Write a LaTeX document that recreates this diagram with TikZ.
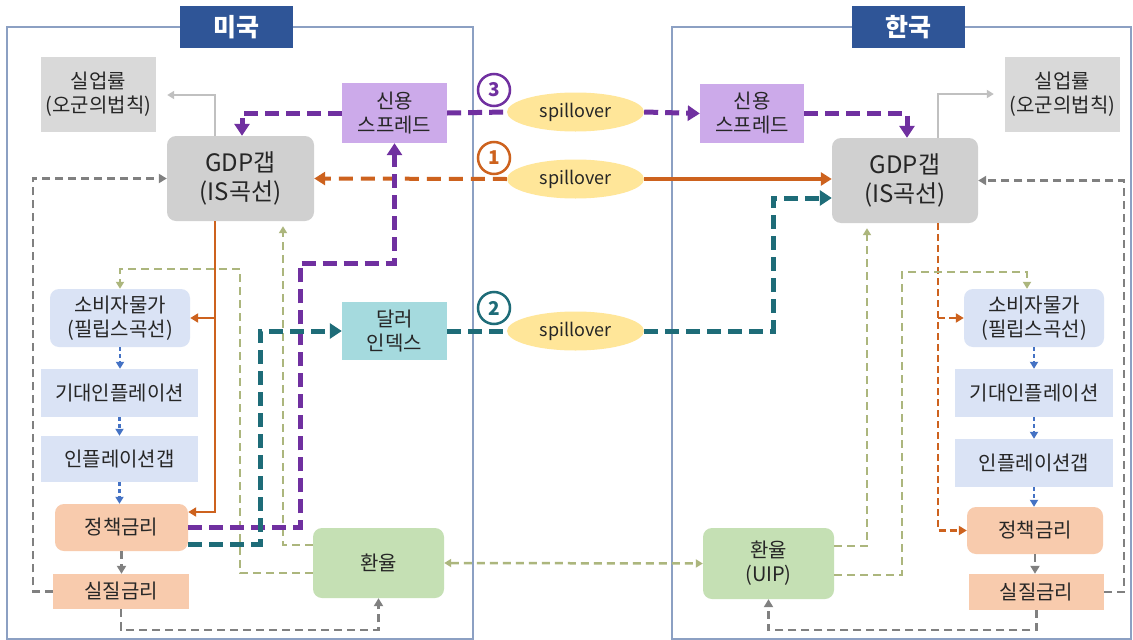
\documentclass[tikz,border=0pt]{standalone}
\usepackage{fontspec}
\setmainfont{Noto Sans CJK KR}
\usetikzlibrary{arrows.meta,shapes.geometric,calc}
\definecolor{navy}{RGB}{47,85,151}
\definecolor{purp}{RGB}{112,48,160}
\definecolor{oran}{RGB}{205,98,30}
\definecolor{teal2}{RGB}{30,108,120}
\definecolor{khaki}{RGB}{172,182,125}
\definecolor{dgray}{RGB}{128,128,128}
\definecolor{lgray}{RGB}{192,192,192}
\definecolor{blu}{RGB}{68,114,196}
\definecolor{frm}{RGB}{140,160,195}
\definecolor{boxgray}{RGB}{208,208,208}
\definecolor{unempgray}{RGB}{217,217,217}
\definecolor{lav}{RGB}{204,170,234}
\definecolor{lblue}{RGB}{218,227,245}
\definecolor{peach}{RGB}{248,203,173}
\definecolor{lgreen}{RGB}{197,224,180}
\definecolor{lteal}{RGB}{165,218,222}
\definecolor{yell}{RGB}{255,230,153}
\tikzset{
  txt/.style={align=center,inner sep=0pt,font=\fontsize{20}{24}\selectfont,text=black!85},
  sq/.style={txt,draw=none},
  rd/.style={txt,draw=none,rounded corners=9pt},
  titlebox/.style={fill=navy,text=white,inner sep=0pt,minimum width=113,minimum height=42,font=\fontsize{25}{28}\selectfont\bfseries},
  spill/.style={ellipse,fill=yell,minimum width=137,minimum height=39,inner sep=0pt,font=\fontsize{18}{20}\selectfont,text=black!85},
  num/.style={circle,draw,line width=2.5pt,minimum size=32,inner sep=0pt,font=\fontsize{19}{20}\selectfont\bfseries},
  purpl/.style={draw=purp,line width=5pt,dash pattern=on 14pt off 7pt,-{Triangle[length=12pt,width=15pt]}},
  tealx/.style={draw=teal2,line width=5pt,dash pattern=on 14pt off 7pt,-{Triangle[length=12pt,width=15pt]}},
  oranD/.style={draw=oran,line width=4pt,dash pattern=on 14pt off 8pt,-{Triangle[length=11pt,width=13pt]}},
  oranS/.style={draw=oran,line width=2.5pt,-{Triangle[length=8pt,width=9pt]}},
  oranT/.style={draw=oran,line width=2.5pt,dash pattern=on 7pt off 4pt,-{Triangle[length=8pt,width=9pt]}},
  grayD/.style={draw=dgray,line width=2.8pt,dash pattern=on 8pt off 5pt,-{Triangle[length=8pt,width=9pt]}},
  khak/.style={draw=khaki,line width=2.5pt,dash pattern=on 8pt off 5pt,-{Triangle[length=7pt,width=8pt]}},
  bluA/.style={draw=blu,line width=2.5pt,dash pattern=on 4pt off 3pt,-{Triangle[length=7pt,width=8pt]}},
  lgr/.style={draw=lgray,line width=2pt,-{Triangle[length=7pt,width=8pt]}},
}
\begin{document}
\begin{tikzpicture}[x=1pt,y=-1pt]
\useasboundingbox (0,0) rectangle (1133,640);
\fill[white] (0,0) rectangle (1133,640);
% frames
\draw[frm,line width=1.2pt] (7,639) rectangle (473,27);
\draw[frm,line width=1.2pt] (672,639) rectangle (1131,27);
\node[titlebox] (tL) at (236.5,27) {미국};
\node[titlebox] (tR) at (908,27) {한국};

% ---------- left nodes
\node[sq,fill=unempgray,minimum width=115,minimum height=75] (unempL) at (98.5,94.5) {실업률\\(오군의법칙)};
\node[sq,fill=lav,minimum width=105,minimum height=60] (creditL) at (394.5,113) {신용\\스프레드};
\node[rd,fill=boxgray,minimum width=147,minimum height=85,font=\fontsize{24}{29}\selectfont] (gdpL) at (240.5,178.5) {GDP갭\\(IS곡선)};
\node[rd,fill=lblue,minimum width=140,minimum height=58] (cpiL) at (120,318) {소비자물가\\(필립스곡선)};
\node[sq,fill=lblue,minimum width=157,minimum height=48] (expL) at (119.5,393) {기대인플레이션};
\node[sq,fill=lblue,minimum width=157,minimum height=46] (gapL) at (119.5,459) {인플레이션갭};
\node[rd,fill=peach,minimum width=133,minimum height=47] (polL) at (121.5,527.5) {정책금리};
\node[sq,fill=peach,minimum width=136,minimum height=35] (realL) at (121,591.5) {실질금리};
\node[rd,fill=lgreen,minimum width=131,minimum height=70] (fxL) at (378.5,563) {환율};
\node[sq,fill=lteal,minimum width=105,minimum height=58] (dollar) at (394.5,331) {달러\\인덱스};

% ---------- right nodes
\node[sq,fill=lav,minimum width=104,minimum height=59] (creditR) at (752,113.5) {신용\\스프레드};
\node[sq,fill=unempgray,minimum width=115,minimum height=75] (unempR) at (1062.5,94.5) {실업률\\(오군의법칙)};
\node[rd,fill=boxgray,minimum width=146,minimum height=85,font=\fontsize{24}{29}\selectfont] (gdpR) at (905,180.5) {GDP갭\\(IS곡선)};
\node[rd,fill=lblue,minimum width=140,minimum height=58] (cpiR) at (1034,318) {소비자물가\\(필립스곡선)};
\node[sq,fill=lblue,minimum width=158,minimum height=48] (expR) at (1034,393) {기대인플레이션};
\node[sq,fill=lblue,minimum width=158,minimum height=48] (gapR) at (1034,463) {인플레이션갭};
\node[rd,fill=peach,minimum width=136,minimum height=47] (polR) at (1035,530.5) {정책금리};
\node[sq,fill=peach,minimum width=135,minimum height=36] (realR) at (1036.5,592) {실질금리};
\node[rd,fill=lgreen,minimum width=131,minimum height=71] (fxR) at (768.5,563.5) {환율\\(UIP)};

% ---------- center
\node[spill] (sp3) at (575.5,112) {spillover};
\node[spill] (sp1) at (575.5,179) {spillover};
\node[spill] (sp2) at (575.5,331) {spillover};
\node[num,draw=purp,text=purp] (n3) at (494,90) {3};
\node[num,draw=oran,text=oran] (n1) at (494,158) {1};
\node[num,draw=teal2,text=teal2] (n2) at (494,308) {2};

% ---------- left connectors
\draw[lgr,shorten >=11pt] (gdpL.north -| 215,0) |- (unempL.east |- 0,95);
\draw[purpl] (creditL.west) -| (gdpL.north -| 242,0);
\draw[oranD] (sp1.west) -- (gdpL.east);
\draw[grayD] (realL.west) -- (33,591.5) |- (gdpL.west);
\draw[oranS] (gdpL.south -| 215,0) |- (polL.east |- 0,512);
\draw[oranS] (215,318) -- (cpiL.east);
\draw[khak] (fxL.west |- 0,573) -| (240,269) -| (cpiL.north);
\draw[khak,shorten >=5pt] (fxL.west |- 0,545) -| (gdpL.south -| 283,0);
\draw[purpl] (polL.east) -| (300,263) -| (creditL.south);
\draw[tealx] (polL.east |- 0,544) -| (260,331) -- (dollar.west);
\draw[bluA] (cpiL.south) -- (cpiL.south |- expL.north);
\draw[bluA] (expL.south) -- (gapL.north);
\draw[bluA] (gapL.south) -- (gapL.south |- polL.north);
\draw[grayD] (polL.south) -- (polL.south |- realL.north);
\draw[grayD] (realL.south) -- (121,630) -| (fxL.south);

% ---------- center connectors
\draw[tealx,-] (dollar.east) -- (sp2.west);
\draw[tealx] (sp2.east) -| (773,198) -- (gdpR.west |- 0,198);
\draw[purpl,-] (creditL.east) -- (sp3.west);
\draw[purpl] (sp3.east) -- (creditR.west);
\draw[purpl] (creditR.east) -| (gdpR.north -| 907,0);
\draw[draw=oran,line width=4pt,-{Triangle[length=11pt,width=13pt]}] (sp1.east) -- (gdpR.west |- 0,179);
\draw[khak,{Triangle[length=7pt,width=8pt]}-{Triangle[length=7pt,width=8pt]}] (fxL.east) -- (fxR.west);

% ---------- right connectors
\draw[lgr,shorten >=11pt] (gdpR.north -| 938,0) |- (unempR.west |- 0,94);
\draw[grayD] (realR.east) -- (1124,592) |- (gdpR.east);
\draw[oranT] (gdpR.south -| 938,0) |- (polR.west);
\draw[oranT] (938,318) -- (cpiR.west);
\draw[khak,shorten >=5pt] (fxR.east |- 0,546) -| (gdpR.south -| 867,0);
\draw[khak] (fxR.east |- 0,575) -| (902,272) -| (cpiR.north -| 1027,0);
\draw[bluA] (cpiR.south) -- (cpiR.south |- expR.north);
\draw[bluA] (expR.south) -- (gapR.north);
\draw[bluA] (gapR.south) -- (gapR.south |- polR.north);
\draw[grayD] (polR.south) -- (polR.south |- realR.north);
\draw[grayD] (realR.south) -- (1036.5,630) -| (fxR.south);
\end{tikzpicture}
\end{document}
